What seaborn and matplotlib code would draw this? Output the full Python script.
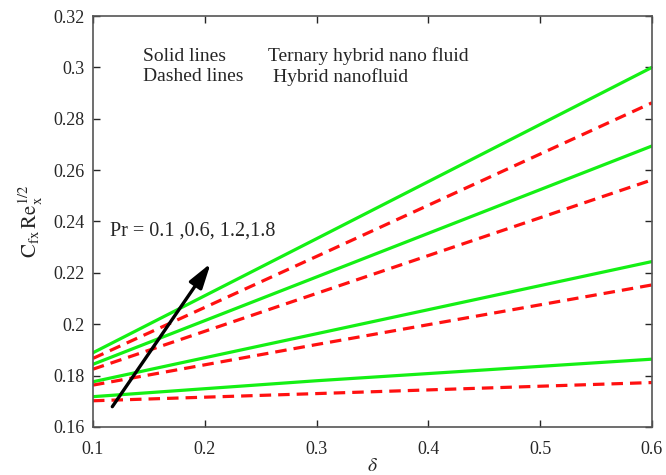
import matplotlib
matplotlib.use("Agg")
import matplotlib.pyplot as plt
import seaborn as sns
import pandas as pd

# ---------------------------------------------------------------------------
# Data (skin friction vs delta, four Pr values)
# ---------------------------------------------------------------------------
delta = [0.1, 0.3, 0.6]
pr_values = ["0.1", "0.6", "1.2", "1.8"]

# Solid lines: ternary hybrid nanofluid
ternary = {
    "1.8": [0.1889, 0.2333, 0.3000],
    "1.2": [0.1844, 0.2184, 0.2694],
    "0.6": [0.1776, 0.1963, 0.2244],
    "0.1": [0.1718, 0.1780, 0.1864],
}
# Dashed lines: hybrid nanofluid
hybrid = {
    "1.8": [0.1867, 0.2264, 0.2862],
    "1.2": [0.1825, 0.2120, 0.2562],
    "0.6": [0.1763, 0.1921, 0.2153],
    "0.1": [0.1702, 0.1730, 0.1773],
}

# arrow (tail -> head) in data coordinates
arrow_tail = (0.1173, 0.1679)
arrow_head = (0.2053, 0.2237)

sns.set_style("ticks")
plt.rcParams["font.family"] = ["Liberation Serif", "DejaVu Serif"]
plt.rcParams["mathtext.fontset"] = "stix"


def build_frame():
    rows = []
    for pr in pr_values:
        for x, y in zip(delta, ternary[pr]):
            rows.append({"delta": x, "cf": y, "Pr": pr, "fluid": "Ternary"})
        for x, y in zip(delta, hybrid[pr]):
            rows.append({"delta": x, "cf": y, "Pr": pr, "fluid": "Hybrid"})
    return pd.DataFrame(rows)


df = build_frame()

fig = plt.figure(figsize=(6.66, 4.75), dpi=100)
ax = fig.add_axes([0.1396, 0.1011, 0.8393, 0.8652])

sns.lineplot(data=df[df["fluid"] == "Ternary"], x="delta", y="cf", units="Pr",
             estimator=None, color="#14f014", lw=2.3, ax=ax)
sns.lineplot(data=df[df["fluid"] == "Hybrid"], x="delta", y="cf", units="Pr",
             estimator=None, color="#ff1010", lw=2.3, ax=ax, dashes=False)
for line in ax.get_lines()[len(pr_values):]:
    line.set_dashes((3.6, 2.2))

ax.annotate("", xy=arrow_head, xytext=arrow_tail,
            arrowprops=dict(arrowstyle="-|>,head_length=1.5,head_width=0.45",
                            color="black", lw=2.4, shrinkA=0, shrinkB=0))

ax.text(0.1152, 0.2364, "Pr = 0.1 ,0.6, 1.2,1.8", fontsize=14.5, va="center")
ax.text(0.1450, 0.3044, "Solid lines", fontsize=14, va="center")
ax.text(0.2568, 0.3044, "Ternary hybrid nano fluid", fontsize=14, va="center")
ax.text(0.1450, 0.2963, "Dashed lines", fontsize=14, va="center")
ax.text(0.2607, 0.2963, "Hybrid nanofluid", fontsize=14, va="center")

ax.set_xlim(0.1, 0.6)
ax.set_ylim(0.16, 0.32)
ax.set_xticks([0.1, 0.2, 0.3, 0.4, 0.5, 0.6])
ax.set_xticklabels(["0.1", "0.2", "0.3", "0.4", "0.5", "0.6"])
ax.set_yticks([0.16, 0.18, 0.2, 0.22, 0.24, 0.26, 0.28, 0.3, 0.32])
ax.set_yticklabels(["0.16", "0.18", "0.2", "0.22", "0.24", "0.26", "0.28", "0.3", "0.32"])
ax.tick_params(direction="in", top=True, right=True, length=5, width=1,
               labelsize=13)
ax.tick_params(axis="y", pad=6)
ax.tick_params(axis="x", pad=10)
for side in ["left", "right", "top", "bottom"]:
    ax.spines[side].set_visible(True)
    ax.spines[side].set_color("#555555")
    ax.spines[side].set_linewidth(1.2)

ax.set_xlabel(r"$\delta$", fontsize=14, labelpad=0)
ax.set_ylabel(r"$\mathrm{C_{fx}\,Re_x^{1/2}}$", fontsize=15, labelpad=6)

fig.savefig("out.png", dpi=100)
